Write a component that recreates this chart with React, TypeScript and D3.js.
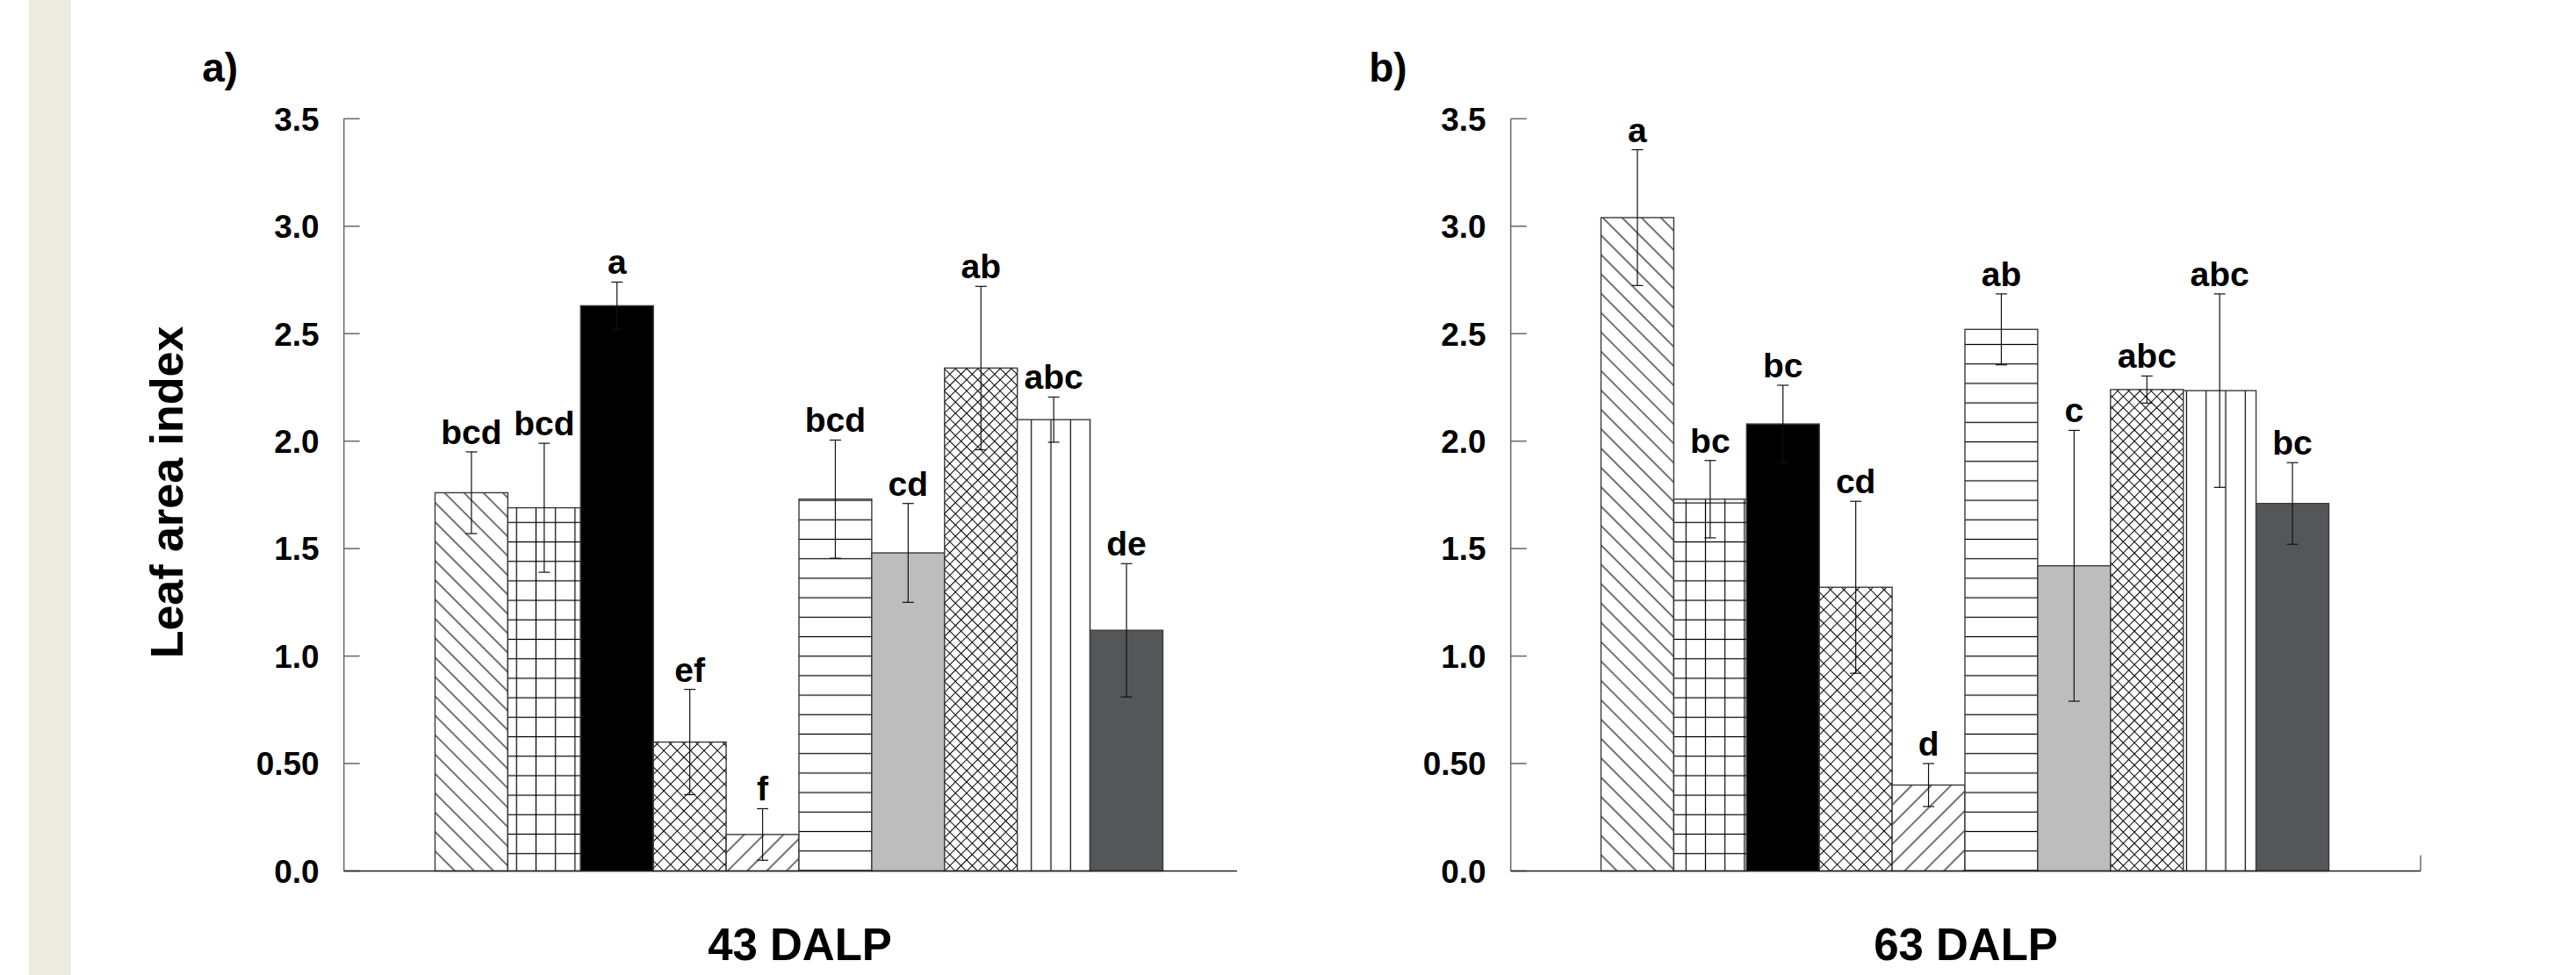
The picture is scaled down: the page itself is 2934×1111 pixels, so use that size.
import React from 'react';
import { scaleLinear, scaleBand } from 'd3';

// ten treatments, same order and fill in both panels
const treatments = ['T1', 'T2', 'T3', 'T4', 'T5', 'T6', 'T7', 'T8', 'T9', 'T10'];
const fills = ['bdiag', 'grid', 'black', 'cross', 'fdiag', 'hlines', 'lightgray', 'crossFine', 'vlines', 'darkgray'];

// 43 DALP
const lai43 = [1.76, 1.69, 2.63, 0.6, 0.17, 1.73, 1.48, 2.34, 2.1, 1.12];
const se43 = [0.19, 0.3, 0.11, 0.245, 0.12, 0.275, 0.23, 0.38, 0.105, 0.31];
const letters43 = ['bcd', 'bcd', 'a', 'ef', 'f', 'bcd', 'cd', 'ab', 'abc', 'de'];

// 63 DALP
const lai63 = [3.04, 1.73, 2.08, 1.32, 0.4, 2.52, 1.42, 2.24, 2.235, 1.71];
const se63 = [0.316, 0.18, 0.18, 0.4, 0.1, 0.165, 0.63, 0.063, 0.45, 0.19];
const letters63 = ['a', 'bc', 'bc', 'cd', 'd', 'ab', 'c', 'abc', 'abc', 'bc'];

const yTicks = [0, 0.5, 1.0, 1.5, 2.0, 2.5, 3.0, 3.5];
const yTickLabels = ['0.0', '0.50', '1.0', '1.5', '2.0', '2.5', '3.0', '3.5'];

const FONT = '"Liberation Sans", Arial, sans-serif';
const W = 2934;
const H = 1111;

const y = scaleLinear().domain([0, 3.5]).range([992.5, 135.3]);

const solid: Record<string, string> = {
  black: '#000000',
  lightgray: '#bdbdbd',
  darkgray: '#555658',
};

const Patterns = () => (
  <defs>
    <pattern id="bdiag" patternUnits="userSpaceOnUse" width={15.6} height={15.6} patternTransform="rotate(-45)">
      <rect width={15.6} height={15.6} fill="#fff" />
      <line x1={7.8} y1={0} x2={7.8} y2={15.6} stroke="#000" strokeWidth={1.1} />
    </pattern>
    <pattern id="fdiag" patternUnits="userSpaceOnUse" width={15.8} height={15.8} patternTransform="rotate(45)">
      <rect width={15.8} height={15.8} fill="#fff" />
      <line x1={7.9} y1={0} x2={7.9} y2={15.8} stroke="#000" strokeWidth={1.1} />
    </pattern>
    <pattern id="grid" patternUnits="userSpaceOnUse" width={22.2} height={22.2} x={0} y={7}>
      <rect width={22.2} height={22.2} fill="#fff" />
      <line x1={11.1} y1={0} x2={11.1} y2={22.2} stroke="#000" strokeWidth={1.2} />
      <line x1={0} y1={11.1} x2={22.2} y2={11.1} stroke="#000" strokeWidth={1.2} />
    </pattern>
    <pattern id="cross" patternUnits="userSpaceOnUse" width={10.8} height={10.8} patternTransform="rotate(45)">
      <rect width={10.8} height={10.8} fill="#fff" />
      <line x1={5.4} y1={0} x2={5.4} y2={10.8} stroke="#000" strokeWidth={1} />
      <line x1={0} y1={5.4} x2={10.8} y2={5.4} stroke="#000" strokeWidth={1} />
    </pattern>
    <pattern id="crossFine" patternUnits="userSpaceOnUse" width={9} height={9} patternTransform="rotate(45)">
      <rect width={9} height={9} fill="#fff" />
      <line x1={4.5} y1={0} x2={4.5} y2={9} stroke="#000" strokeWidth={1} />
      <line x1={0} y1={4.5} x2={9} y2={4.5} stroke="#000" strokeWidth={1} />
    </pattern>
    <pattern id="hlines" patternUnits="userSpaceOnUse" width={22.2} height={22.2} y={4}>
      <rect width={22.2} height={22.2} fill="#fff" />
      <line x1={0} y1={11.1} x2={22.2} y2={11.1} stroke="#000" strokeWidth={1.2} />
    </pattern>
    <pattern id="vlines" patternUnits="userSpaceOnUse" width={22.3} height={22.3} x={4}>
      <rect width={22.3} height={22.3} fill="#fff" />
      <line x1={11.1} y1={0} x2={11.1} y2={22.3} stroke="#000" strokeWidth={1.2} />
    </pattern>
  </defs>
);

type PanelProps = {
  axisX: number;
  barsX0: number;
  axisEnd: number;
  endTick: boolean;
  values: number[];
  errors: number[];
  letters: string[];
  tag: string;
  title: string;
};

const Panel = ({ axisX, barsX0, axisEnd, endTick, values, errors, letters, tag, title }: PanelProps) => {
  const x = scaleBand<string>().domain(treatments).range([barsX0, barsX0 + 829]).padding(0);
  const bw = x.bandwidth();
  const base = y(0);
  return (
    <g>
      <text x={axisX - 161.5} y={93} fontFamily={FONT} fontWeight="bold" fontSize={46}>{tag}</text>

      {treatments.map((t, i) => {
        const f = fills[i];
        const fill = solid[f] ? solid[f] : `url(#${f})`;
        return (
          <rect key={t} x={x(t)} y={y(values[i])} width={bw} height={base - y(values[i])}
            fill={fill} stroke="#3a3a3a" strokeWidth={1.4} />
        );
      })}

      {treatments.map((t, i) => {
        const cx = (x(t) as number) + bw / 2;
        const top = y(values[i] + errors[i]);
        const bot = y(values[i] - errors[i]);
        return (
          <g key={t}>
            <line x1={cx} x2={cx} y1={top} y2={bot} stroke="#111" strokeWidth={1.2} />
            <line x1={cx - 6.5} x2={cx + 6.5} y1={top} y2={top} stroke="#111" strokeWidth={1.2} />
            <line x1={cx - 6.5} x2={cx + 6.5} y1={bot} y2={bot} stroke="#111" strokeWidth={1.2} />
            <text x={cx} y={top - 9} textAnchor="middle" fontFamily={FONT} fontWeight="bold" fontSize={39}>
              {letters[i]}
            </text>
          </g>
        );
      })}

      {/* y axis */}
      <line x1={axisX} x2={axisX} y1={y(3.5)} y2={base} stroke="#6e6e6e" strokeWidth={1.6} />
      {yTicks.map((v, i) => (
        <g key={v}>
          <line x1={axisX} x2={axisX + 18} y1={y(v)} y2={y(v)} stroke="#6e6e6e" strokeWidth={1.6} />
          <text x={axisX - 28} y={y(v)} dy="0.36em" textAnchor="end" fontFamily={FONT} fontWeight="bold" fontSize={37}>
            {yTickLabels[i]}
          </text>
        </g>
      ))}

      {/* x axis */}
      <line x1={axisX} x2={axisEnd} y1={base} y2={base} stroke="#222" strokeWidth={1.5} />
      {endTick && <line x1={axisEnd} x2={axisEnd} y1={base} y2={base - 18} stroke="#555" strokeWidth={1.3} />}

      <text x={barsX0 + 829 / 2 + 1} y={1094} textAnchor="middle" fontFamily={FONT} fontWeight="bold" fontSize={51}>
        {title}
      </text>
    </g>
  );
};

const App = () => {
  return (
    <svg width={W} height={H} viewBox={`0 0 ${W} ${H}`}
      style={{ position: 'absolute', left: 0, top: 0, display: 'block', background: '#fff' }}>
      <Patterns />
      <rect x={0} y={0} width={W} height={H} fill="#fff" />
      <rect x={33} y={0} width={48} height={H} fill="#edebe1" />

      <text transform="translate(208,561) rotate(-90)" textAnchor="middle" fontFamily={FONT}
        fontWeight="bold" fontSize={52}>Leaf area index</text>

      <Panel axisX={391.7} barsX0={495.5} axisEnd={1409} endTick={false}
        values={lai43} errors={se43} letters={letters43} tag="a)" title="43 DALP" />
      <Panel axisX={1720.7} barsX0={1823.5} axisEnd={2757} endTick={true}
        values={lai63} errors={se63} letters={letters63} tag="b)" title="63 DALP" />
    </svg>
  );
};

export default App;
